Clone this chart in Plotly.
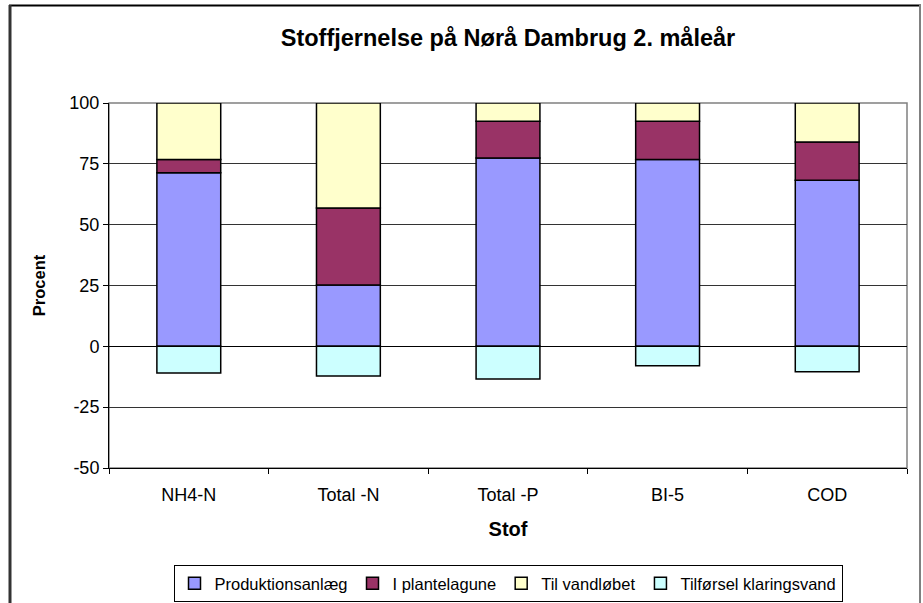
import plotly.graph_objects as go

categories = ["NH4-N", "Total -N", "Total -P", "BI-5", "COD"]
produktionsanlaeg = [71.3, 25.2, 77.4, 76.8, 68.3]
plantelagune = [5.5, 31.7, 15.1, 15.7, 15.7]
vandloebet = [23.2, 43.1, 7.5, 7.5, 16.0]
klaringsvand = [-11.0, -12.2, -13.4, -8.0, -10.4]

series_names = ["Produktionsanlæg", "I plantelagune", "Til vandløbet", "Tilførsel klaringsvand"]
series_values = [produktionsanlaeg, plantelagune, vandloebet, klaringsvand]
series_colors = ["#9999FF", "#993366", "#FFFFCC", "#CCFFFF"]

y_ticks = [-50, -25, 0, 25, 50, 75, 100]

FONT = "Liberation Sans, Arial, sans-serif"

fig = go.Figure()
for name, vals, col in zip(series_names, series_values, series_colors):
    fig.add_trace(go.Bar(
        x=categories, y=vals, name=name,
        marker=dict(color=col, line=dict(color="black", width=1.5)),
    ))

W, H = 923, 603
L, R, T, B = 109, 16, 103, 135
pw = W - L - R
ph = H - T - B

def px2x(px):
    return (px - L) / pw

def px2y(py):
    return (H - B - py) / ph

fig.update_layout(
    width=W, height=H,
    margin=dict(l=L, r=R, t=T, b=B, pad=0, autoexpand=False),
    paper_bgcolor="white", plot_bgcolor="white",
    barmode="relative", bargap=0.6,
    font=dict(family=FONT, color="black", size=18),
    title=dict(text="<b>Stoffjernelse på Nørå Dambrug 2. måleår</b>",
               x=0.5, xanchor="center", xref="paper",
               y=1 - 38 / H, yanchor="middle", yref="container",
               font=dict(size=23.5, family=FONT, color="black")),
    legend=dict(orientation="h", x=0.5, xanchor="center",
                y=px2y(565), yanchor="top",
                bordercolor="black", borderwidth=1,
                font=dict(size=16.5, family=FONT), itemwidth=30,
                traceorder="normal"),
    showlegend=True,
)

fig.update_xaxes(
    type="category", showgrid=False, automargin=False,
    showline=True, linecolor="black", linewidth=1,
    ticks="outside", tickson="boundaries", ticklen=5, tickcolor="black",
    tickfont=dict(size=18, family=FONT),
    ticklabelstandoff=10,
    title=dict(text="<b>Stof</b>", font=dict(size=20, family=FONT), standoff=18),
)
fig.update_yaxes(
    range=[-50, 100], tickvals=y_ticks, ticktext=[str(v) for v in y_ticks],
    automargin=False,
    showgrid=True, gridcolor="#333333", gridwidth=1,
    zeroline=True, zerolinecolor="black", zerolinewidth=1,
    showline=True, linecolor="black", linewidth=1,
    ticks="outside", ticklen=5, tickcolor="black",
    tickfont=dict(size=18, family=FONT),
    title=dict(text="<b>Procent</b>", font=dict(size=16.5, family=FONT), standoff=19),
)

# plot area border (top/right grey)
fig.add_shape(type="rect", xref="paper", yref="paper", x0=0, x1=1, y0=0, y1=1,
              line=dict(color="#808080", width=1.5), layer="below")
# outer chart border: top, left, right
fig.add_shape(type="line", xref="paper", yref="paper",
              x0=px2x(9), x1=px2x(921), y0=px2y(5.5), y1=px2y(5.5),
              line=dict(color="black", width=2))
fig.add_shape(type="line", xref="paper", yref="paper",
              x0=px2x(10), x1=px2x(10), y0=px2y(5), y1=px2y(610),
              line=dict(color="#333333", width=3))
fig.add_shape(type="line", xref="paper", yref="paper",
              x0=px2x(920), x1=px2x(920), y0=px2y(5), y1=px2y(610),
              line=dict(color="#808080", width=2))

fig.write_html("out.html", post_script="document.body.style.margin='0';",
               config={"displayModeBar": False})
